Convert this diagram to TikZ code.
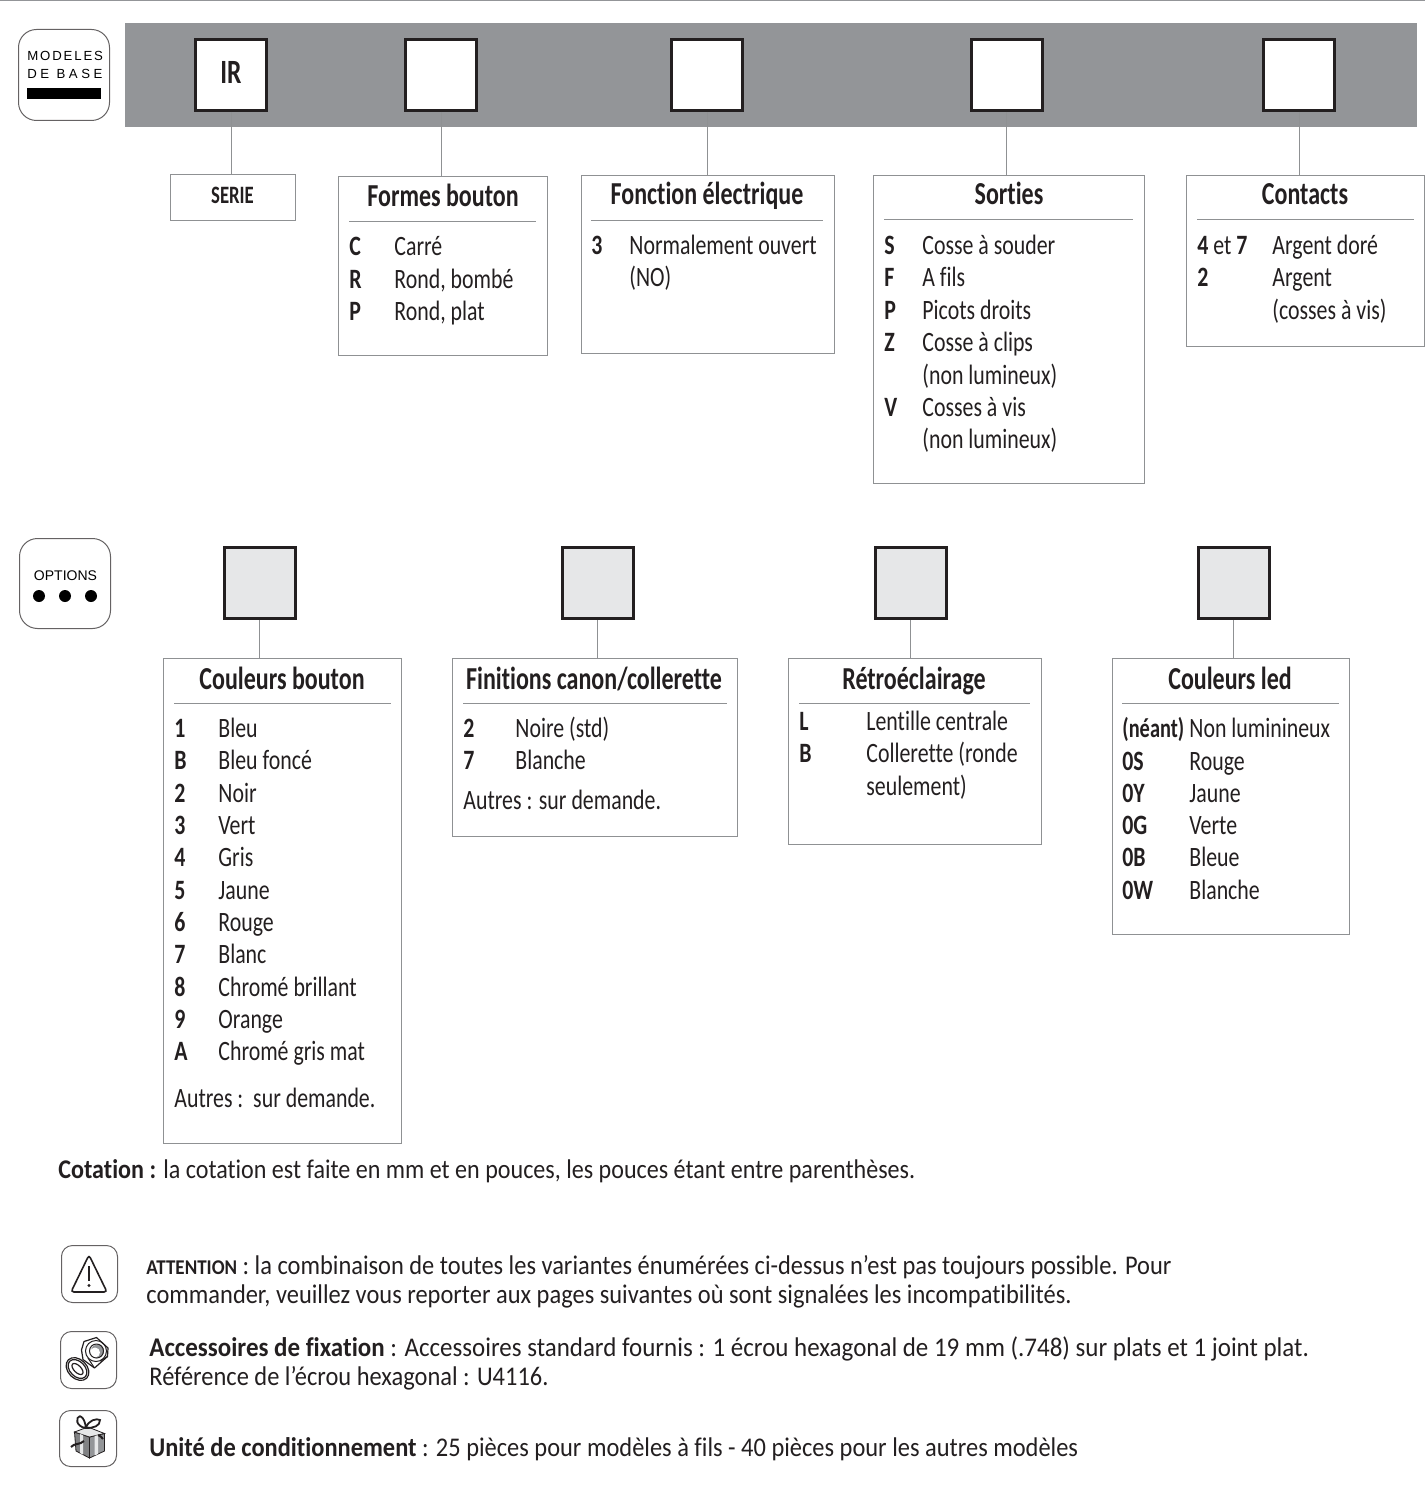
\documentclass[tikz,border=0pt]{standalone}
\usepackage{fontspec}
\setmainfont{Carlito}
\setsansfont{Liberation Sans}
\newfontfamily\listfam[FakeStretch=0.78,Ligatures=NoCommon]{Carlito}
\newfontfamily\headfam[FakeStretch=0.75,Ligatures=NoCommon]{Carlito}
\newfontfamily\notefam[FakeStretch=0.905,Ligatures=NoCommon]{Carlito}
\newfontfamily\notewide[FakeStretch=0.925,Ligatures=NoCommon]{Carlito}
\newfontfamily\notenarrow[FakeStretch=0.892,Ligatures=NoCommon]{Carlito}
\newcommand{\listfont}{\listfam\fontsize{14}{16}\selectfont}
\newcommand{\titlefont}{\headfam\bfseries\fontsize{16}{18}\selectfont}
\newcommand{\notefont}{\notefam\fontsize{13.5}{16}\selectfont}
\definecolor{barcolor}{HTML}{939598}
\definecolor{linecolor}{HTML}{8F9193}
\definecolor{optcolor}{HTML}{E6E7E8}
\definecolor{inkcolor}{HTML}{231F20}

\begin{document}
\begin{tikzpicture}[
  x=0.5pt,y=-0.5pt,
  slot/.style={draw=inkcolor,line width=1.5pt,fill=white,minimum size=35.5pt,inner sep=0pt},
  optslot/.style={slot,fill=optcolor},
  panel/.style={draw=linecolor,line width=0.55pt,fill=white,anchor=north west,inner sep=0pt},
  link/.style={draw=linecolor,line width=0.5pt},
  rule/.style={draw=linecolor,line width=0.4pt},
  badge/.style={draw=inkcolor!70,line width=0.5pt,rounded corners=9pt,anchor=north west,inner sep=0pt},
  iconbox/.style={badge,rounded corners=5.5pt},
  head/.style={font=\titlefont,text=inkcolor,anchor=base,inner sep=0pt},
  keyl/.style={font=\listfont\bfseries,text=inkcolor,anchor=base west,inner sep=0pt,yshift=-0.5pt},
  vall/.style={font=\listfont,text=inkcolor,anchor=base west,inner sep=0pt,yshift=-0.5pt},
  note/.style={font=\notefont,text=inkcolor,anchor=base west,inner sep=0pt},
  tag/.style={font=\sffamily\fontsize{6.6}{8}\selectfont,anchor=base west,inner sep=0pt}
]
  \useasboundingbox (0,0) rectangle (1425,1486);
  \draw[barcolor,line width=0.8pt] (0,0.5) -- (1425,0.5);
  \fill[barcolor] (125,23) rectangle (1417,127);

  % badges
  \node[badge,minimum width=45.5pt,minimum height=45.5pt] (base) at (18,29) {};
  \node[tag,font=\sffamily\addfontfeature{LetterSpace=14}\fontsize{6.6}{8}\selectfont] (baseA) at (27,61) {MODELES};
  \node[tag,font=\sffamily\addfontfeature{LetterSpace=27}\fontsize{6.6}{8}\selectfont] (baseB) at (27,79) {DE BASE};
  \fill[black] (27,88) rectangle (101,99);
  \node[badge,minimum width=45.5pt,minimum height=45pt] (opt) at (19,538) {};
  \node[font=\sffamily\fontsize{7}{8}\selectfont,anchor=base,inner sep=0pt] (optA) at (65.5,580) {OPTIONS};
  \fill[black] (39,596) circle (6) (65,596) circle (6) (91,596) circle (6);

  % top slots
  \node[slot] (sA) at (231,75) {};
  \node[font=\headfam\bfseries\fontsize{17}{18}\selectfont,text=inkcolor,inner sep=0pt] (sAt) at (231,72) {IR};
  \node[slot] (sB) at (441,75) {};
  \node[slot] (sC) at (707,75) {};
  \node[slot] (sD) at (1006.5,75) {};
  \node[slot] (sE) at (1299,75) {};

  % top panels
  \node[panel,minimum width=62.5pt,minimum height=23pt] (pA) at (170,174) {};
  \node[panel,minimum width=104.5pt,minimum height=89.5pt] (pB) at (338,176) {};
  \node[panel,minimum width=126.5pt,minimum height=89pt] (pC) at (580.5,175) {};
  \node[panel,minimum width=135.5pt,minimum height=154pt] (pD) at (873,175) {};
  \node[panel,minimum width=119pt,minimum height=85.5pt] (pE) at (1186,175) {};

  \draw[link] (sA.south) -- (sA.south |- pA.north);
  \draw[link] (sB.south) -- (sB.south |- pB.north);
  \draw[link] (sC.south) -- (sC.south |- pC.north);
  \draw[link] (sD.south) -- (sD.south |- pD.north);
  \draw[link] (sE.south) -- (sE.south |- pE.north);

  \node[font=\headfam\bfseries\fontsize{12.5}{14}\selectfont,text=inkcolor,anchor=base,inner sep=0pt] (pAt) at (232.5,204) {SERIE};

  \node[head] (pBt) at (443,207) {Formes bouton};
  \node[head] (pCt) at (707,205) {Fonction électrique};
  \node[head] (pDt) at (1009,205) {Sorties};
  \node[head] (pEt) at (1305,205) {Contacts};
  \draw[rule] (349,221) -- (536,221);
  \draw[rule] (591,220) -- (823,220);
  \draw[rule] (884,219) -- (1133,219);
  \draw[rule] (1197,219) -- (1414,219);

  \begin{scope}[yshift=-0.4pt]
  \node[keyl] (b1k) at (349,254) {C};
  \node[vall] (b1v) at (394,254) {Carré};
  \node[keyl] (b2k) at (349,287) {R};
  \node[vall] (b2v) at (394,287) {Rond, bombé};
  \node[keyl] (b3k) at (349,319) {P};
  \node[vall] (b3v) at (394,319) {Rond, plat};

  \node[keyl] (c1k) at (591,253) {3};
  \node[vall] (c1v) at (629,253) {Normalement ouvert};
  \node[vall] (c2v) at (629,285) {(NO)};

  \node[keyl] (d1k) at (884,253) {S};
  \node[vall] (d1v) at (922,253) {Cosse à souder};
  \node[keyl] (d2k) at (884,285) {F};
  \node[vall] (d2v) at (922,285) {A fils};
  \node[keyl] (d3k) at (884,318) {P};
  \node[vall] (d3v) at (922,318) {Picots droits};
  \node[keyl] (d4k) at (884,350) {Z};
  \node[vall] (d4v) at (922,350) {Cosse à clips};
  \node[vall] (d5v) at (922,383) {(non lumineux)};
  \node[keyl] (d6k) at (884,415) {V};
  \node[vall] (d6v) at (922,415) {Cosses à vis};
  \node[vall] (d7v) at (922,447) {(non lumineux)};

  \node[vall] (e1k) at (1197,253) {\textbf{4} et \textbf{7}};
  \node[vall] (e1v) at (1272,253) {Argent doré};
  \node[keyl] (e2k) at (1197,285) {2};
  \node[vall] (e2v) at (1272,285) {Argent};
  \node[vall] (e3v) at (1272,318) {(cosses à vis)};
  \end{scope}

  % option slots
  \node[optslot] (oA) at (259.5,583) {};
  \node[optslot] (oB) at (597.5,583) {};
  \node[optslot] (oC) at (910.5,583) {};
  \node[optslot] (oD) at (1233.5,583) {};

  % option panels
  \node[panel,minimum width=119pt,minimum height=242.5pt] (qA) at (163,658) {};
  \node[panel,minimum width=142.5pt,minimum height=89pt] (qB) at (451.5,658) {};
  \node[panel,minimum width=126.5pt,minimum height=93pt] (qC) at (787.5,658) {};
  \node[panel,minimum width=118.5pt,minimum height=138pt] (qD) at (1111.5,658) {};

  \draw[link] (oA.south) -- (oA.south |- qA.north);
  \draw[link] (oB.south) -- (oB.south |- qB.north);
  \draw[link] (oC.south) -- (oC.south |- qC.north);
  \draw[link] (oD.south) -- (oD.south |- qD.north);

  \node[head] (qAt) at (282,689) {Couleurs bouton};
  \draw[rule] (174,703) -- (391,703);
  \node[keyl] (a1k) at (174,736) {1};
  \node[vall] (a1v) at (218,736) {Bleu};
  \node[keyl] (a2k) at (174,768) {B};
  \node[vall] (a2v) at (218,768) {Bleu foncé};
  \node[keyl] (a3k) at (174,801) {2};
  \node[vall] (a3v) at (218,801) {Noir};
  \node[keyl] (a4k) at (174,833) {3};
  \node[vall] (a4v) at (218,833) {Vert};
  \node[keyl] (a5k) at (174,865) {4};
  \node[vall] (a5v) at (218,865) {Gris};
  \node[keyl] (a6k) at (174,898) {5};
  \node[vall] (a6v) at (218,898) {Jaune};
  \node[keyl] (a7k) at (174,930) {6};
  \node[vall] (a7v) at (218,930) {Rouge};
  \node[keyl] (a8k) at (174,962) {7};
  \node[vall] (a8v) at (218,962) {Blanc};
  \node[keyl] (a9k) at (174,995) {8};
  \node[vall] (a9v) at (218,995) {Chromé brillant};
  \node[keyl] (a10k) at (174,1027) {9};
  \node[vall] (a10v) at (218,1027) {Orange};
  \node[keyl] (a11k) at (174,1059) {A};
  \node[vall] (a11v) at (218,1059) {Chromé gris mat};
  \node[vall] (a12v) at (174,1106) {Autres :\ \ sur demande.};

  \node[head] (qBt) at (594,689) {Finitions canon/collerette};
  \draw[rule] (463,703) -- (727,703);
  \node[keyl] (f1k) at (463,736) {2};
  \node[vall] (f1v) at (515,736) {Noire (std)};
  \node[keyl] (f2k) at (463,768) {7};
  \node[vall] (f2v) at (515,768) {Blanche};
  \node[vall] (f3v) at (463,808) {Autres : sur demande.};

  \node[head] (qCt) at (914,689) {Rétroéclairage};
  \draw[rule] (799,703) -- (1030,703);
  \node[keyl] (r1k) at (799,729) {L};
  \node[vall] (r1v) at (866,729) {Lentille centrale};
  \node[keyl] (r2k) at (799,761) {B};
  \node[vall] (r2v) at (866,761) {Collerette (ronde};
  \node[vall] (r3v) at (866,794) {seulement)};

  \node[head] (qDt) at (1230,689) {Couleurs led};
  \draw[rule] (1122,703) -- (1339,703);
  \node[keyl,font=\headfam\bfseries\fontsize{13.6}{16}\selectfont] (l1k) at (1122,736) {(néant)};
  \node[vall] (l1v) at (1189,736) {Non luminineux};
  \node[keyl] (l2k) at (1122,769) {0S};
  \node[vall] (l2v) at (1189,769) {Rouge};
  \node[keyl] (l3k) at (1122,801) {0Y};
  \node[vall] (l3v) at (1189,801) {Jaune};
  \node[keyl] (l4k) at (1122,833) {0G};
  \node[vall] (l4v) at (1189,833) {Verte};
  \node[keyl] (l5k) at (1122,865) {0B};
  \node[vall] (l5v) at (1189,865) {Bleue};
  \node[keyl] (l6k) at (1122,898) {0W};
  \node[vall] (l6v) at (1189,898) {Blanche};

  % notes
  \node[note,font=\notenarrow\fontsize{13.5}{16}\selectfont] (n1) at (58,1178) {\textbf{Cotation :} la cotation est faite en mm et en pouces, les pouces étant entre parenthèses.};
  \node[note] (n2) at (146,1274) {{\bfseries\fontsize{10.5}{12}\selectfont ATTENTION} : la combinaison de toutes les variantes énumérées ci-dessus n’est pas toujours possible. Pour};
  \node[note] (n3) at (146,1303) {commander, veuillez vous reporter aux pages suivantes où sont signalées les incompatibilités.};
  \node[note,font=\notewide\fontsize{13.5}{16}\selectfont] (n4) at (149,1356) {\textbf{Accessoires de fixation} : Accessoires standard fournis : 1 écrou hexagonal de 19 mm (.748) sur plats et 1 joint plat.};
  \node[note] (n5) at (149,1385) {Référence de l’écrou hexagonal : U4116.};
  \node[note] (n6) at (149,1456) {\textbf{Unité de conditionnement} : 25 pièces pour modèles à fils - 40 pièces pour les autres modèles};

  % icons
  \node[iconbox,minimum width=28pt,minimum height=28.5pt] (iA) at (61,1245) {};
  \draw[inkcolor,line width=0.8pt,rounded corners=1.5pt] (89,1255) -- (107,1292) -- (71,1292) -- cycle;
  \draw[inkcolor,line width=0.8pt] (89,1266) -- (89,1281);
  \fill[inkcolor] (89,1285.5) circle (1.7);

  \node[iconbox,minimum width=28pt,minimum height=28.5pt] (iB) at (60,1331) {};
  \draw[inkcolor,line width=0.6pt,rotate around={-45:(77.5,1369)}] (77.5,1369) ellipse [x radius=13,y radius=9.5] (77.5,1369) ellipse [x radius=11,y radius=7.5] (77.5,1369) ellipse [x radius=7,y radius=3.5];
  \draw[inkcolor,line width=0.6pt,fill=white,line join=round] (84,1341.5) -- (96.5,1337.5) -- (108,1348) -- (107.5,1356.5) -- (94.5,1368) -- (83,1359.5) -- (81.5,1350) -- cycle;
  \draw[inkcolor,line width=0.5pt] (96,1351) circle (10.5);
  \fill[barcolor] (97.5,1351) circle (6.5);
  \fill[white] (95,1352.5) circle (5);
  \draw[inkcolor,line width=0.5pt] (96.5,1351) circle (7);
  \draw[inkcolor,line width=0.5pt] (88,1358) -- (94.5,1368) (100,1361) -- (107.5,1356.5);

  \node[iconbox,minimum width=28.5pt,minimum height=28pt] (iC) at (59,1410) {};
  \filldraw[fill=linecolor!90!black,draw=inkcolor,line width=0.4pt] (74.5,1432) -- (89.5,1437) -- (89.5,1458) -- (76,1451) -- cycle;
  \filldraw[fill=barcolor,draw=inkcolor,line width=0.4pt] (89.5,1437) -- (104.5,1433.5) -- (104.5,1451) -- (89.5,1458) -- cycle;
  \filldraw[fill=optcolor,draw=inkcolor,line width=0.4pt] (74.5,1432) -- (88,1427) -- (104.5,1433.5) -- (89.5,1437) -- cycle;
  \fill[optcolor] (94.5,1436) -- (98,1435) -- (98,1454) -- (94.5,1455.5) -- cycle;
  \fill[optcolor] (80,1434) -- (83,1435) -- (83,1454.5) -- (80,1453) -- cycle;
  \draw[inkcolor,line width=0.9pt] (86,1428) .. controls (76,1427) and (75,1417) .. (80,1416) (80,1416) .. controls (84,1418) and (85,1422) .. (86,1428) (86,1428) .. controls (88,1420) and (97,1418) .. (100,1420) .. controls (100,1426) and (94,1428) .. (86,1428);
  \draw[inkcolor,line width=1pt] (71,1447) .. controls (74,1443) and (80,1445) .. (84,1441);
  \draw[inkcolor,line width=1pt] (98,1435) .. controls (100,1436) and (102,1437) .. (103,1439);
\end{tikzpicture}
\end{document}
